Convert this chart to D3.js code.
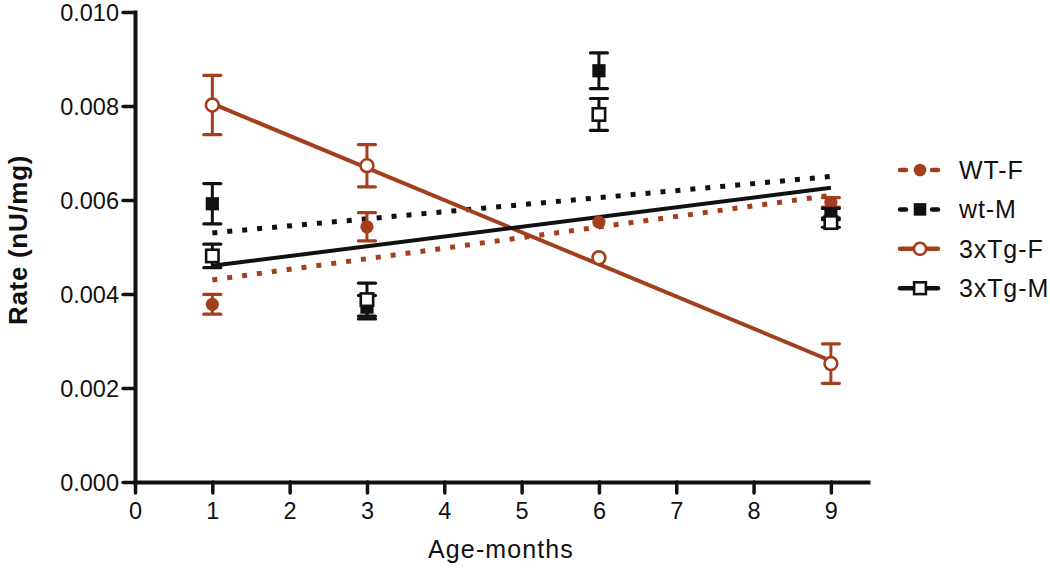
<!DOCTYPE html>
<html><head><meta charset="utf-8">
<script src="https://cdn.jsdelivr.net/npm/d3@7"></script>
<style>body{margin:0;background:#fff}svg{display:block}text{font-family:"Liberation Sans",Arial,sans-serif}</style>
</head><body>
<svg id="c" width="1050" height="568"></svg>
<script>
const ages = [1, 3, 6, 9];
const wtF = [0.00378, 0.00543, 0.00553, 0.00595];
const wtFErr = [0.00021, 0.00030, 0, 0.00010];
const wtM = [0.00592, 0.00372, 0.00875, 0.00570];
const wtMErr = [0.00043, 0.00025, 0.00038, 0.00012];
const tgF = [0.00802, 0.00673, 0.00477, 0.00252];
const tgFErr = [0.00063, 0.00045, 0, 0.00042];
const tgM = [0.00481, 0.00388, 0.00782, 0.00552];
const tgMErr = [0.00025, 0.00035, 0.00034, 0.00010];
const fitX = [1, 9];
const wtFFit = [0.00430, 0.00610];
const wtMFit = [0.00530, 0.00650];
const tgFFit = [0.00805, 0.00258];
const tgMFit = [0.00460, 0.00626];
const xTicks = [0,1,2,3,4,5,6,7,8,9];
const yTicks = [0, 0.002, 0.004, 0.006, 0.008, 0.010];
const names = ["WT-F", "wt-M", "3xTg-F", "3xTg-M"];

const BROWN = "#a33f1c", BLACK = "#111";
const series = [
  {name:names[0], v:wtF, e:wtFErr, fit:wtFFit, color:BROWN, shape:"circle", filled:true, dotted:true},
  {name:names[1], v:wtM, e:wtMErr, fit:wtMFit, color:BLACK, shape:"square", filled:true, dotted:true},
  {name:names[2], v:tgF, e:tgFErr, fit:tgFFit, color:BROWN, shape:"circle", filled:false, dotted:false},
  {name:names[3], v:tgM, e:tgMErr, fit:tgMFit, color:BLACK, shape:"square", filled:false, dotted:false}
];

const svg = d3.select("#c");
const x = d3.scaleLinear().domain([0, 9.48]).range([135, 868]);
const y = d3.scaleLinear().domain([0, 0.010]).range([482, 12]);

const gx = svg.append("g").attr("transform", "translate(0,482)")
  .call(d3.axisBottom(x).tickValues(xTicks).tickSize(11).tickSizeOuter(0).tickPadding(9).tickFormat(d3.format("d")));
const gy = svg.append("g").attr("transform", "translate(135,0)")
  .call(d3.axisLeft(y).tickValues(yTicks).tickSize(12).tickSizeOuter(0).tickPadding(4).tickFormat(d3.format(".3f")));
[gx, gy].forEach(g => {
  g.selectAll(".domain").attr("stroke", BLACK).attr("stroke-width", 4).attr("stroke-linecap","square");
  g.selectAll(".tick line").attr("stroke", BLACK).attr("stroke-width", 3.5).attr("stroke-linecap","round");
  g.selectAll(".tick text").attr("font-size", 23.5).attr("fill", BLACK).attr("font-family", "Liberation Sans, Arial");
});
gy.selectAll(".tick text").attr("dy", "0.36em");

svg.append("text").attr("x", 501).attr("y", 558).attr("text-anchor", "middle")
  .attr("font-size", 25).attr("letter-spacing", 1.1).attr("fill", BLACK).text("Age-months");
svg.append("text").attr("transform", "translate(27,240) rotate(-90)").attr("text-anchor", "middle")
  .attr("font-size", 26).attr("letter-spacing", 0.7).attr("font-weight", "bold").attr("fill", BLACK).text("Rate (nU/mg)");

const plot = svg.append("g");

function marker(g, s, cx, cy, k) {
  if (s.shape === "circle") {
    g.append("circle").attr("cx", cx).attr("cy", cy).attr("r", (s.filled ? 6.6 : 6.4) * k)
      .attr("fill", s.filled ? s.color : "#fff").attr("stroke", s.color).attr("stroke-width", s.filled ? 0 : 2.6);
  } else {
    const h = (s.filled ? 6.6 : 6.2) * k;
    g.append("rect").attr("x", cx - h).attr("y", cy - h).attr("width", 2*h).attr("height", 2*h)
      .attr("fill", s.filled ? s.color : "#fff").attr("stroke", s.color).attr("stroke-width", s.filled ? 0 : 2.6);
  }
}

// fit lines
series.forEach(s => {
  plot.append("line")
    .attr("x1", x(fitX[0])).attr("y1", y(s.fit[0])).attr("x2", x(fitX[1])).attr("y2", y(s.fit[1]))
    .attr("stroke", s.color).attr("stroke-width", s.dotted ? 5 : 4)
    .attr("stroke-dasharray", s.dotted ? "5,10" : null);
});

// error bars + markers
series.forEach(s => {
  ages.forEach((a, i) => {
    const cx = x(a), v = s.v[i], e = s.e[i];
    const g = plot.append("g");
    if (e > 0) {
      const yt = y(v + e), yb = y(v - e);
      g.append("line").attr("x1", cx).attr("x2", cx).attr("y1", yt).attr("y2", yb).attr("stroke", s.color).attr("stroke-width", 3);
      [yt, yb].forEach(yy => g.append("line").attr("x1", cx - 8.5).attr("x2", cx + 8.5).attr("y1", yy).attr("y2", yy)
        .attr("stroke", s.color).attr("stroke-width", 3.2).attr("stroke-linecap","round"));
    }
    marker(g, s, cx, y(v), 1);
  });
});

// legend
const lg = svg.append("g");
series.forEach((s, i) => {
  const yy = 170 + i * 39.4;
  lg.append("line").attr("x1", 900).attr("x2", 938).attr("y1", yy).attr("y2", yy)
    .attr("stroke", s.color).attr("stroke-width", 4.5).attr("stroke-linecap", "round")
    .attr("stroke-dasharray", s.dotted ? "6,26" : null);
  marker(lg, s, 920, yy, 0.95);
  lg.append("text").attr("x", 959).attr("y", yy).attr("dy", "0.36em").attr("font-size", 25)
    .attr("letter-spacing", 0.9).attr("fill", BLACK).text(s.name);
});
</script>
</body></html>
